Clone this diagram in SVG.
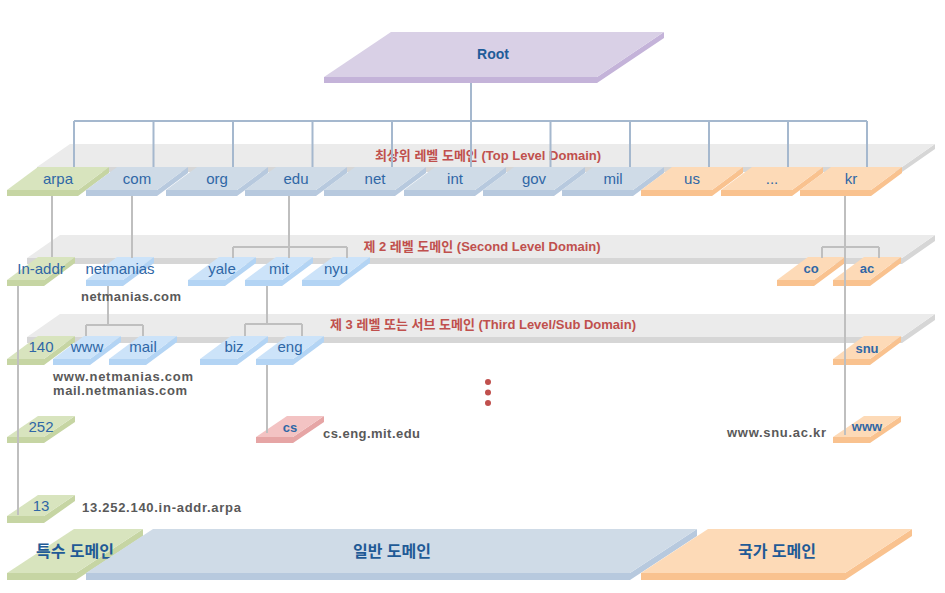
<svg xmlns="http://www.w3.org/2000/svg" width="945" height="593" viewBox="0 0 945 593">
<style>
.bt{fill:#ebebeb}.be{fill:#d6d6d6}
.rt{fill:#d9d0e6}.re{fill:#c4b3d9}
.gt{fill:#cfdbe7}.ge{fill:#b7c9de}
.lt{fill:#cce3f9}.le{fill:#b3d4f4}
.at{fill:#d8e4be}.ae{fill:#c6d5a3}
.ot{fill:#fddab7}.oe{fill:#f9c28f}
.pt{fill:#f3c3c3}.pe{fill:#e6a5a5}
text{font-family:"Liberation Sans","Noto Sans CJK KR",sans-serif}
.n{font-size:15px;fill:#2f67a6;text-anchor:middle}
.s{font-size:13px;font-weight:bold;fill:#2f67a6;text-anchor:middle}
.band{font-size:13px;font-weight:bold;fill:#c0504d;text-anchor:middle}
.big{font-size:16px;font-weight:bold;fill:#1f5a96;text-anchor:middle}
.fq{font-size:13px;font-weight:bold;fill:#595959}
.bl{stroke:#a5b8ce;stroke-width:2;fill:none}
.gr{stroke:#bfbfbf;stroke-width:2;fill:none}
</style>
<rect width="945" height="593" fill="#ffffff"/>
<g id="bands">
<polygon class="be" points="37,167 902,167 935,144 935,149 902,172 37,172"/>
<polygon class="bt" points="70,144 935,144 902,167 37,167"/>
<text class="band" x="488" y="160">최상위 레벨 도메인 (Top Level Domain)</text>
<polygon class="be" points="27,258 902,258 935,235 935,241 902,264 27,264"/>
<polygon class="bt" points="60,235 935,235 902,258 27,258"/>
<text class="band" x="482" y="251">제 2 레벨 도메인 (Second Level Domain)</text>
<polygon class="be" points="27,337 902,337 935,314 935,320 902,343 27,343"/>
<polygon class="bt" points="60,314 935,314 902,337 27,337"/>
<text class="band" x="483" y="329">제 3 레벨 또는 서브 도메인 (Third Level/Sub Domain)</text>
</g>
<g id="root">
<polygon class="re" points="324,77 597,77 664,32 664,38 597,83 324,83"/>
<polygon class="rt" points="391,32 664,32 597,77 324,77"/>
<text x="493" y="59" style="font-size:14px;font-weight:bold;fill:#1f5c99;text-anchor:middle">Root</text>
</g>
<g id="tld-arpa"><polygon class="ae" points="7,190 78,190 109,167 109,173 78,196 7,196"/><polygon class="at" points="38,167 109,167 78,190 7,190"/><text class="n" x="58" y="184">arpa</text></g>
<g id="tld-com"><polygon class="ge" points="86,190 157,190 188,167 188,173 157,196 86,196"/><polygon class="gt" points="117,167 188,167 157,190 86,190"/><text class="n" x="137" y="184">com</text></g>
<g id="tld-org"><polygon class="ge" points="166,190 237,190 268,167 268,173 237,196 166,196"/><polygon class="gt" points="197,167 268,167 237,190 166,190"/><text class="n" x="217" y="184">org</text></g>
<g id="tld-edu"><polygon class="ge" points="245,190 316,190 347,167 347,173 316,196 245,196"/><polygon class="gt" points="276,167 347,167 316,190 245,190"/><text class="n" x="296" y="184">edu</text></g>
<g id="tld-net"><polygon class="ge" points="324,190 395,190 426,167 426,173 395,196 324,196"/><polygon class="gt" points="355,167 426,167 395,190 324,190"/><text class="n" x="375" y="184">net</text></g>
<g id="tld-int"><polygon class="ge" points="404,190 475,190 506,167 506,173 475,196 404,196"/><polygon class="gt" points="435,167 506,167 475,190 404,190"/><text class="n" x="455" y="184">int</text></g>
<g id="tld-gov"><polygon class="ge" points="483,190 554,190 585,167 585,173 554,196 483,196"/><polygon class="gt" points="514,167 585,167 554,190 483,190"/><text class="n" x="534" y="184">gov</text></g>
<g id="tld-mil"><polygon class="ge" points="562,190 633,190 664,167 664,173 633,196 562,196"/><polygon class="gt" points="593,167 664,167 633,190 562,190"/><text class="n" x="613" y="184">mil</text></g>
<g id="tld-us"><polygon class="oe" points="641,190 712,190 743,167 743,173 712,196 641,196"/><polygon class="ot" points="672,167 743,167 712,190 641,190"/><text class="n" x="692" y="184">us</text></g>
<g id="tld-etc"><polygon class="oe" points="721,190 792,190 823,167 823,173 792,196 721,196"/><polygon class="ot" points="752,167 823,167 792,190 721,190"/><text class="n" x="772" y="184">...</text></g>
<g id="tld-kr"><polygon class="oe" points="800,190 871,190 902,167 902,173 871,196 800,196"/><polygon class="ot" points="831,167 902,167 871,190 800,190"/><text class="n" x="851" y="184">kr</text></g>

<g id="sld-inaddr"><polygon class="ae" points="7,280 44,280 75,257 75,263 44,286 7,286"/><polygon class="at" points="38,257 75,257 44,280 7,280"/><text class="n" x="41" y="274">In-addr</text></g>
<g id="sld-netmanias"><polygon class="le" points="86,280 123,280 154,257 154,263 123,286 86,286"/><polygon class="lt" points="117,257 154,257 123,280 86,280"/><text class="n" x="120" y="274">netmanias</text></g>
<g id="sld-yale"><polygon class="le" points="188,280 225,280 256,257 256,263 225,286 188,286"/><polygon class="lt" points="219,257 256,257 225,280 188,280"/><text class="n" x="222" y="274">yale</text></g>
<g id="sld-mit"><polygon class="le" points="245,280 282,280 313,257 313,263 282,286 245,286"/><polygon class="lt" points="276,257 313,257 282,280 245,280"/><text class="n" x="279" y="274">mit</text></g>
<g id="sld-nyu"><polygon class="le" points="302,280 339,280 370,257 370,263 339,286 302,286"/><polygon class="lt" points="333,257 370,257 339,280 302,280"/><text class="n" x="336" y="274">nyu</text></g>
<g id="sld-co"><polygon class="oe" points="777,280 814,280 845,257 845,263 814,286 777,286"/><polygon class="ot" points="808,257 845,257 814,280 777,280"/><text class="s" x="811" y="273">co</text></g>
<g id="sld-ac"><polygon class="oe" points="833,280 870,280 901,257 901,263 870,286 833,286"/><polygon class="ot" points="864,257 901,257 870,280 833,280"/><text class="s" x="867" y="273">ac</text></g>

<g id="l3-140"><polygon class="ae" points="7,359 44,359 75,336 75,342 44,365 7,365"/><polygon class="at" points="38,336 75,336 44,359 7,359"/><text class="n" x="41" y="352">140</text></g>
<g id="l3-www"><polygon class="le" points="53,359 90,359 121,336 121,342 90,365 53,365"/><polygon class="lt" points="84,336 121,336 90,359 53,359"/><text class="n" x="87" y="352">www</text></g>
<g id="l3-mail"><polygon class="le" points="109,359 146,359 177,336 177,342 146,365 109,365"/><polygon class="lt" points="140,336 177,336 146,359 109,359"/><text class="n" x="143" y="352">mail</text></g>
<g id="l3-biz"><polygon class="le" points="200,359 237,359 268,336 268,342 237,365 200,365"/><polygon class="lt" points="231,336 268,336 237,359 200,359"/><text class="n" x="234" y="352">biz</text></g>
<g id="l3-eng"><polygon class="le" points="256,359 293,359 324,336 324,342 293,365 256,365"/><polygon class="lt" points="287,336 324,336 293,359 256,359"/><text class="n" x="290" y="352">eng</text></g>
<g id="l3-snu"><polygon class="oe" points="833,359 870,359 901,336 901,342 870,365 833,365"/><polygon class="ot" points="864,336 901,336 870,359 833,359"/><text class="s" x="867" y="353">snu</text></g>

<g id="l4-252"><polygon class="ae" points="7,437 44,437 75,416 75,422 44,443 7,443"/><polygon class="at" points="38,416 75,416 44,437 7,437"/><text class="n" x="41" y="432">252</text></g>
<g id="l4-cs"><polygon class="pe" points="256,437 293,437 324,416 324,422 293,443 256,443"/><polygon class="pt" points="287,416 324,416 293,437 256,437"/><text class="s" x="290" y="432">cs</text></g>
<g id="l4-www"><polygon class="oe" points="833,437 870,437 901,416 901,422 870,443 833,443"/><polygon class="ot" points="864,416 901,416 870,437 833,437"/><text class="s" x="867" y="431">www</text></g>
<g id="l5-13"><polygon class="ae" points="7,516 44,516 75,495 75,501 44,523 7,523"/><polygon class="at" points="38,495 75,495 44,516 7,516"/><text class="n" x="41" y="511">13</text></g>

<g id="cat-special"><polygon class="ae" points="7,573 76,573 143,529 143,536 76,580 7,580"/><polygon class="at" points="74,529 143,529 76,573 7,573"/><text class="big" x="75" y="557">특수 도메인</text></g>
<g id="cat-general"><polygon class="ge" points="86,573 630,573 697,529 697,536 630,580 86,580"/><polygon class="gt" points="153,529 697,529 630,573 86,573"/><text class="big" x="392" y="557">일반 도메인</text></g>
<g id="cat-country"><polygon class="oe" points="641,573 845,573 912,529 912,536 845,580 641,580"/><polygon class="ot" points="708,529 912,529 845,573 641,573"/><text class="big" x="777" y="557">국가 도메인</text></g>

<g id="connectors">
<path class="bl" d="M471,83 V121 M74,121 H867 M74,121 V167 M153.5,121 V167 M233,121 V167 M312.5,121 V167 M392,121 V167 M471,121 V167 M550.5,121 V167 M630,121 V167 M709,121 V167 M788,121 V167 M867,121 V167"/>
<path class="gr" d="M52,196 V257 M132,196 V258 M289,196 V258 M233,247 H347 M233,247 V258 M347,247 V258 M845,196 V435 M822,247 H879 M822,247 V258 M879,247 V258 M18,286 V515 M108,286 V325 M86,325 H143 M86,325 V336 M143,325 V336 M267,286 V324 M245,324 H302 M245,324 V336 M302,324 V336 M267,365 V433"/>
</g>
<g id="dots" fill="#c0504d">
<circle cx="488" cy="382" r="3"/><circle cx="488" cy="392.5" r="3"/><circle cx="488" cy="403" r="3"/>
</g>
<g id="fqdn-labels">
<text class="fq" x="81" y="301" textLength="100">netmanias.com</text>
<text class="fq" x="53" y="381" textLength="140">www.netmanias.com</text>
<text class="fq" x="53" y="395" textLength="134">mail.netmanias.com</text>
<text class="fq" x="323" y="438" textLength="97">cs.eng.mit.edu</text>
<text class="fq" x="727" y="437" textLength="99">www.snu.ac.kr</text>
<text class="fq" x="82" y="512" textLength="159">13.252.140.in-addr.arpa</text>
</g>
</svg>
